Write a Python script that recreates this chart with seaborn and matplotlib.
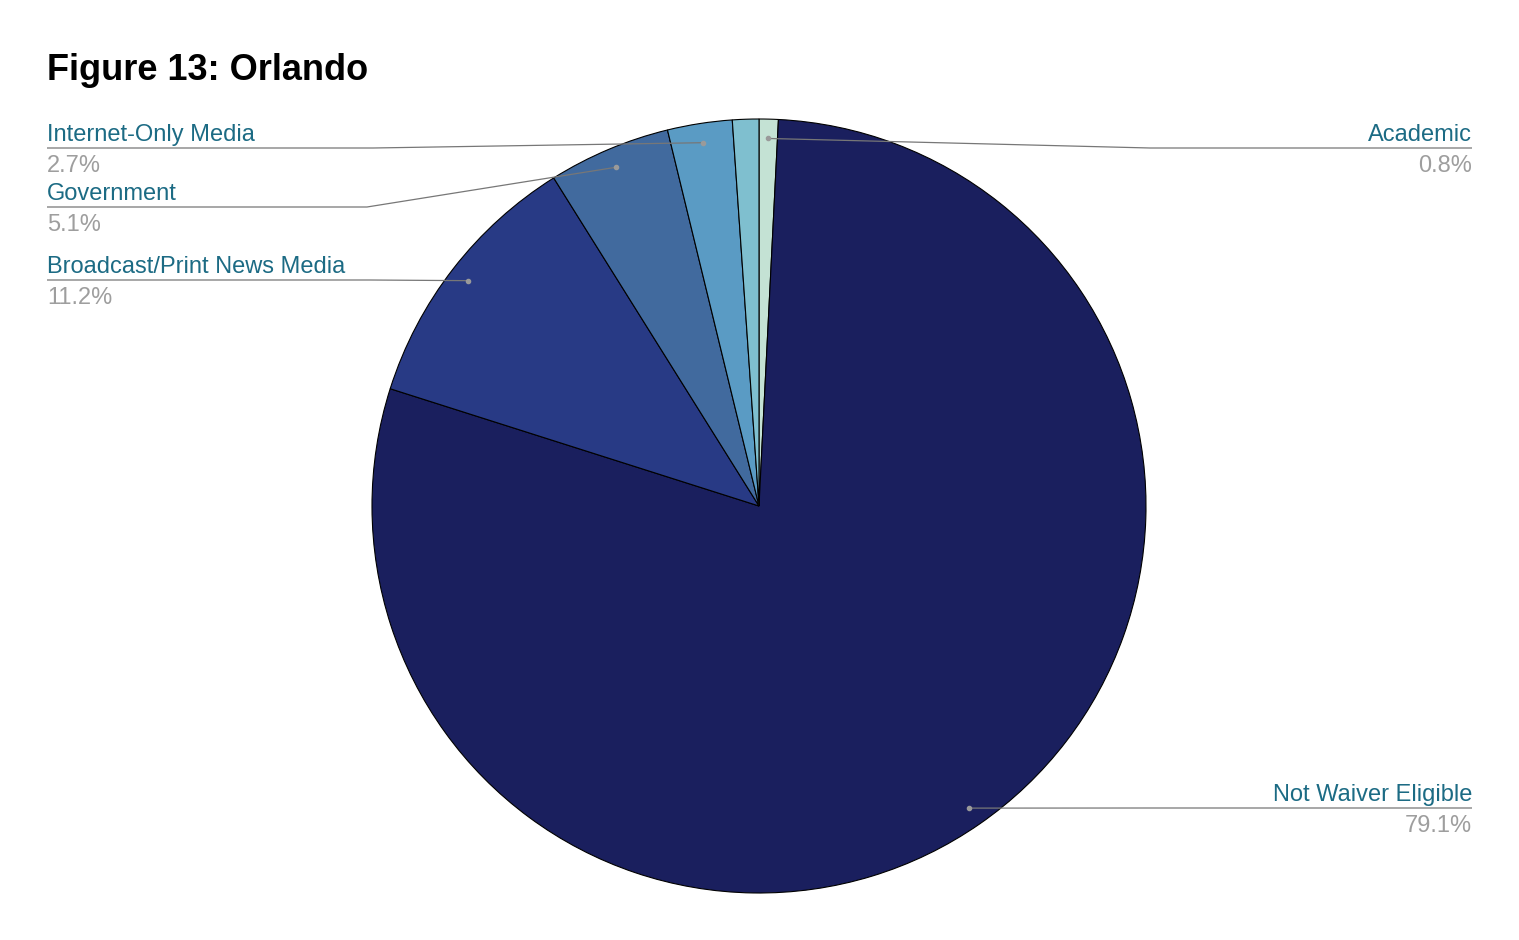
import numpy as np
import matplotlib.pyplot as plt
import seaborn as sns

# slice order as drawn: clockwise from 12 o'clock
categories = ["Academic", "Not Waiver Eligible", "Broadcast/Print News Media",
              "Government", "Internet-Only Media", ""]
shares = [0.8, 79.1, 11.2, 5.1, 2.7, 1.1]
pct_labels = ["0.8%", "79.1%", "11.2%", "5.1%", "2.7%", ""]
colors = ["#c4e2d4", "#1a1f5e", "#283a85", "#416a9e", "#5a9bc4", "#7fbfcf"]

W, H = 1519, 940
sns.set_theme(style="white")
plt.rcParams['font.family'] = ['Liberation Sans', 'DejaVu Sans']

fig = plt.figure(figsize=(W / 100, H / 100), dpi=100)
ax = fig.add_axes([0, 0, 1, 1])

cx, cy, rad = 759, H - 506, 387
wedges, _ = ax.pie(shares, colors=colors, startangle=90, counterclock=False,
                   center=(cx, cy), radius=rad,
                   wedgeprops=dict(edgecolor="black", linewidth=0.8))
ax.set_xlim(0, W)
ax.set_ylim(0, H)
ax.set_aspect("equal")
ax.axis("off")

ax.text(47, H - 80, "Figure 13: Orlando", fontsize=26, fontweight="bold",
        color="black", ha="left", va="baseline")

# label layout: (line y from top, side, elbow x)
layout = {
    "Academic": (148, "right", 1150),
    "Not Waiver Eligible": (808, "right", 1150),
    "Broadcast/Print News Media": (280, "left", 370),
    "Government": (207, "left", 367),
    "Internet-Only Media": (148, "left", 373),
}

label_col = "#1c6b84"
pct_col = "#9e9e9e"
line_col = "#777777"

for w, name, pct in zip(wedges, categories, pct_labels):
    if name not in layout:
        continue
    ly, side, ex = layout[name]
    ly = H - ly
    mid = np.deg2rad((w.theta1 + w.theta2) / 2)
    dx = cx + 0.95 * rad * np.cos(mid)
    dy = cy + 0.95 * rad * np.sin(mid)
    tx = 47 if side == "left" else 1472
    ax.plot([dx, ex, tx], [dy, ly, ly], color=line_col, lw=0.9,
            solid_capstyle="butt", zorder=3)
    ax.plot(dx, dy, "o", color="#9a9a9a", ms=3, zorder=4)
    ha = "left" if side == "left" else "right"
    ax.text(tx, ly + 2, name, fontsize=17, color=label_col, ha=ha, va="bottom")
    ax.text(tx, ly - 7, pct, fontsize=17, color=pct_col, ha=ha, va="top")

fig.savefig("out.png", dpi=100, facecolor="white")
